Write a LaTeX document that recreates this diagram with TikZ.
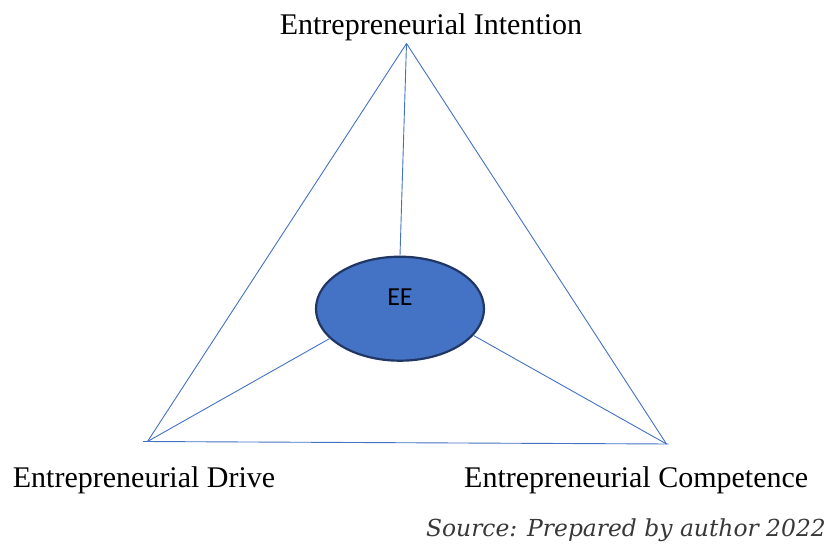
\documentclass[tikz,border=0pt]{standalone}
\usepackage{fontspec}
\setmainfont{Liberation Serif}
\newfontfamily\eefont{Carlito}
\newfontfamily\srcfont{DejaVu Serif}
\usetikzlibrary{shapes.geometric}
\definecolor{edgeblue}{HTML}{4472C4}
\definecolor{eefill}{HTML}{4472C4}
\definecolor{eeborder}{RGB}{32,54,100}
\definecolor{srcgray}{HTML}{383838}
\begin{document}
\begin{tikzpicture}[x=1pt,y=-1pt,
  edge/.style={draw=edgeblue,line width=0.9pt},
  corner/.style={font=\fontsize{30}{36}\selectfont,inner sep=0pt},
  centre/.style={ellipse,fill=eefill,draw=eeborder,line width=2.2pt,
    minimum width=168pt,minimum height=104pt,inner sep=0pt}]
\useasboundingbox (0,0) rectangle (828,545);

% vertices of the triangle
\coordinate (T)  at (406.5,43.5);
\coordinate (BL) at (147.5,441.5);
\coordinate (BR) at (666.5,444);
\coordinate (BLx) at (143,441.5);
\coordinate (BRx) at (668.5,444);

% central ellipse
\node[centre] (ee) at (400,308.7) {};
\node[font=\eefont\fontsize{26}{30}\selectfont,anchor=base,inner sep=0pt] (eetext) at (400,305.7) {EE};

% triangle sides
\draw[edge] (T) -- (BL);
\draw[edge] (T) -- (BR);
\draw[edge] (BLx) -- (BRx);

% spokes to the ellipse
\draw[edge] (T) -- (ee.north);
\draw[edge] (BL) -- (ee.203);
\draw[edge] (BR) -- (ee.340);

% labels
\node[corner,anchor=base] (intent) at (431,34.3) {Entrepreneurial Intention};
\node[corner,anchor=base west] (drive) at (12.7,487.3) {Entrepreneurial Drive};
\node[corner,anchor=base west] (comp) at (464,487.3) {Entrepreneurial Competence};
\node[font=\srcfont\itshape\fontsize{23.4}{28}\selectfont,text=srcgray,anchor=base east,inner sep=0pt] (src) at (826,536) {Source: Prepared by author 2022};
\end{tikzpicture}
\end{document}
